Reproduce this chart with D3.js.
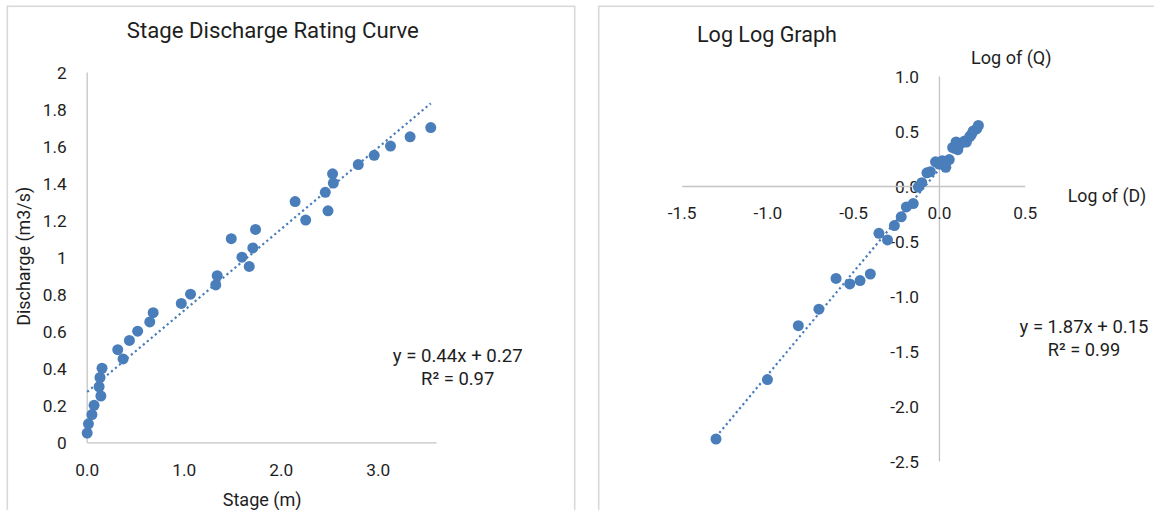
<!DOCTYPE html>
<html><head><meta charset="utf-8">
<script src="https://cdn.jsdelivr.net/npm/d3@7"></script>
<style>
html,body{margin:0;padding:0;background:#fff;}
svg{display:block;}
text{font-family:Roboto,'Liberation Sans',sans-serif;fill:#1e1e1e;}
</style>
</head><body>
<svg id="c" width="1154" height="510"></svg>
<script>
// ---------- data ----------
const dischargeQ = [0.05,0.10,0.15,0.20,0.25,0.30,0.35,0.40,0.45,0.50,0.55,0.60,0.65,0.70,0.75,0.80,0.85,0.90,0.95,1.00,1.05,1.10,1.15,1.20,1.25,1.30,1.35,1.40,1.45,1.50,1.55,1.60,1.65,1.70];
const stageD = [0.005,0.018,0.054,0.076,0.146,0.128,0.137,0.158,0.375,0.32,0.44,0.525,0.65,0.685,0.975,1.07,1.33,1.345,1.675,1.60,1.712,1.49,1.74,2.257,2.487,2.148,2.459,2.542,2.534,2.799,2.963,3.131,3.333,3.546];
const logQ = [-1.30,-1.00,-0.82,-0.70,-0.60,-0.52,-0.46,-0.40,-0.35,-0.30,-0.26,-0.22,-0.19,-0.15,-0.12,-0.10,-0.07,-0.05,-0.02,0.00,0.02,0.04,0.06,0.08,0.10,0.11,0.13,0.15,0.16,0.18,0.19,0.20,0.22,0.23];
const logD = [-2.30,-1.76,-1.27,-1.12,-0.84,-0.89,-0.86,-0.80,-0.43,-0.49,-0.36,-0.28,-0.19,-0.16,-0.01,0.03,0.12,0.13,0.22,0.20,0.23,0.17,0.24,0.35,0.40,0.33,0.39,0.41,0.40,0.45,0.47,0.50,0.52,0.55];
const linearFit = [0.44, 0.27];   // slope, intercept
const logFit = [1.87, 0.15];

const stageTicks = [0,1,2,3];
const stageTickLabels = ["0.0","1.0","2.0","3.0"];
const dischargeTicks = [0,0.2,0.4,0.6,0.8,1,1.2,1.4,1.6,1.8,2];
const dischargeTickLabels = ["0","0.2","0.4","0.6","0.8","1","1.2","1.4","1.6","1.8","2"];
const logQTicks = [-1.5,-1,-0.5,0,0.5];
const logQTickLabels = ["-1.5","-1.0","-0.5","0.0","0.5"];
const logDTicks = [-2.5,-2,-1.5,-1,-0.5,0,0.5,1];
const logDTickLabels = ["-2.5","-2.0","-1.5","-1.0","-0.5","0.0","0.5","1.0"];

const leftTitle = "Stage Discharge Rating Curve";
const leftXTitle = "Stage (m)";
const leftYTitle = "Discharge (m3/s)";
const leftEq = ["y = 0.44x + 0.27","R\u00B2 = 0.97"];
const rightTitle = "Log Log Graph";
const rightXTitle = "Log of (D)";
const rightYTitle = "Log of (Q)";
const rightEq = ["y = 1.87x + 0.15","R\u00B2 = 0.99"];

// ---------- drawing ----------
const svg = d3.select("#c");
const BLUE = "#4a7ebb", AXIS = "#c4c4c4", BORDER = "#d9d9d9", TEXT = "#1e1e1e";
const FONT = "Roboto,'Liberation Sans',sans-serif";

function fit(sel, target){
  sel.style("font-size","100px");
  const w = sel.node().getComputedTextLength();
  const s = 100*target/w;
  sel.style("font-size", s+"px");
  return s;
}

// chart frames
svg.append("rect").attr("x",7.3).attr("y",6.3).attr("width",567.4).attr("height",560)
  .attr("fill","#fff").attr("stroke",BORDER).attr("stroke-width",1.6);
svg.append("rect").attr("x",598.7).attr("y",6.3).attr("width",620).attr("height",560)
  .attr("fill","#fff").attr("stroke",BORDER).attr("stroke-width",1.6);

// font ratio (substitute font vs Calibri-like original)
const probe = svg.append("text").text(leftYTitle);
const probeSize = fit(probe, 139);
probe.remove();
const ratio = probeSize/20.2;
const tickFont = 19.5*ratio;

// ----- left chart -----
const xL = d3.scaleLinear().domain([0,3.6]).range([86.7,436]);
const yL = d3.scaleLinear().domain([0,2]).range([442.3,72]);

const gLy = svg.append("g").attr("transform",`translate(${xL(0)},0)`)
  .call(d3.axisLeft(yL).tickValues(dischargeTicks).tickFormat((d,i)=>dischargeTickLabels[i]).tickSize(0).tickSizeOuter(0).tickPadding(20));
const gLx = svg.append("g").attr("transform",`translate(0,${yL(0)})`)
  .call(d3.axisBottom(xL).tickValues(stageTicks).tickFormat((d,i)=>stageTickLabels[i]).tickSize(0).tickSizeOuter(0));

// ----- right chart -----
const xR = d3.scaleLinear().domain([-1.5,0.5]).range([681.7,1024.7]);
const yR = d3.scaleLinear().domain([-2.5,1]).range([461,76]);

const gRy = svg.append("g").attr("transform",`translate(${xR(0)},0)`)
  .call(d3.axisLeft(yR).tickValues(logDTicks).tickFormat((d,i)=>logDTickLabels[i]).tickSize(0).tickSizeOuter(0).tickPadding(20));
const gRx = svg.append("g").attr("transform",`translate(0,${yR(0)})`)
  .call(d3.axisBottom(xR).tickValues(logQTicks).tickFormat((d,i)=>logQTickLabels[i]).tickSize(0).tickSizeOuter(0));

[gLy,gLx,gRy,gRx].forEach(g=>{
  g.select(".domain").attr("stroke",AXIS).attr("stroke-width",1.3);
  g.selectAll("text").attr("fill",TEXT).style("font-family",FONT).style("font-size",tickFont+"px");
});
[gLy,gRy].forEach(g=>g.selectAll("text").attr("dy","0.36em"));
gLx.selectAll("text").attr("y",33.4).attr("dy",null);
gRx.selectAll("text").attr("y",33).attr("dy",null);

// trendlines
function trend(xs, fitc, xs_, ys_){
  const x0 = d3.min(xs), x1 = d3.max(xs);
  const pts = [[x0, fitc[0]*x0+fitc[1]],[x1, fitc[0]*x1+fitc[1]]];
  svg.append("path").attr("d", d3.line().x(d=>xs_(d[0])).y(d=>ys_(d[1]))(pts))
    .attr("fill","none").attr("stroke",BLUE).attr("stroke-width",2.2)
    .attr("stroke-dasharray","2.2 3");
}
trend(stageD, linearFit, xL, yL);
trend(logQ, logFit, xR, yR);

// points
svg.append("g").selectAll("circle").data(stageD.map((d,i)=>[d,dischargeQ[i]])).join("circle")
  .attr("cx",d=>xL(d[0])).attr("cy",d=>yL(d[1])).attr("r",5.5).attr("fill",BLUE);
svg.append("g").selectAll("circle").data(logQ.map((d,i)=>[d,logD[i]])).join("circle")
  .attr("cx",d=>xR(d[0])).attr("cy",d=>yR(d[1])).attr("r",5.5).attr("fill",BLUE);

// texts
function label(txt, x, y, w, anchor, rot){
  const t = svg.append("text").text(txt).attr("text-anchor",anchor||"middle");
  if(rot) t.attr("transform",`translate(${x},${y}) rotate(${rot})`);
  else t.attr("x",x).attr("y",y);
  fit(t,w);
  return t;
}
label(leftTitle, 272.8, 38, 292);
label(leftXTitle, 262.2, 505.5, 79);
label(leftYTitle, 30, 256.3, 139, "middle", -90);
label(leftEq[0], 457.7, 361.7, 130);
label(leftEq[1], 457.7, 385, 73.3);

label(rightTitle, 697, 42, 140, "start");
label(rightYTitle, 1011.3, 64.3, 80.6);
label(rightXTitle, 1107, 202.3, 78.6);
label(rightEq[0], 1084, 333.3, 129);
label(rightEq[1], 1084, 356.3, 72.6);
</script>
</body></html>
